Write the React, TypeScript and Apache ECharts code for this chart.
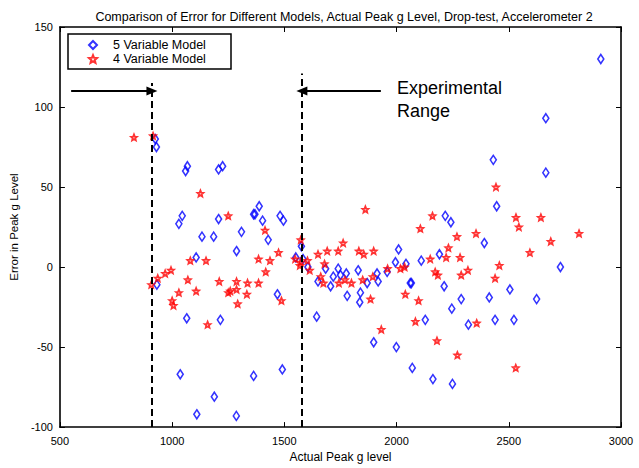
import React, { useEffect, useRef } from "react";
import * as echarts from "echarts";

const titleText =
  "Comparison of Error for Different Models, Actual Peak g Level, Drop-test, Accelerometer 2";
const xAxisName = "Actual Peak g level";
const yAxisName = "Error in Peak g Level";
const seriesNames = ["5 Variable Model", "4 Variable Model"];
const annotationLines = ["Experimental", "Range"];

const xTicks = { min: 500, max: 3000, interval: 500 };
const yTicks = { min: -100, max: 150, interval: 50 };

// 5 Variable Model (blue diamonds)
const model5X = [
  2910, 2665, 2431, 2665, 2446, 925, 930, 1060, 1068, 1207, 1225, 1045, 1030, 1207, 1363, 1133,
  1185, 1309, 1287, 1107, 932, 1065, 1215, 1036, 1363, 1188, 1110, 1286, 1388, 1369, 1403, 1481,
  1496, 1428, 1469, 1576, 1551, 1583, 1605, 1684, 1650, 1706, 1718, 1740, 1750, 1776, 1829, 1869,
  1913, 1918, 1958, 2009, 1995, 2042, 2110, 2061, 2066, 1780, 1839, 1836, 1644, 1491, 2128, 1898,
  1999, 2070, 2162, 2249, 2217, 2242, 2391, 2191, 2730, 2212, 2505, 2288, 2413, 2624, 2246, 2320,
  2439, 2523,
];
const model5Y = [
  130, 93, 67, 59, 38, 80, 75, 60, 63, 61, 63, 32, 27, 30, 33, 19,
  19, 22, 10, 6, -11, -32, -33, -67, -68, -81, -92, -93, 38, 33, 29, 32,
  29, 17, -17, 13, 6, 5, 0, -1, -9, -12, -6, -1, -5, -4, -2, -10,
  -4, -9, -3, 11, 3, 2, 4, -10, -10, -18, -16, -22, -31, -64, -33, -47,
  -50, -63, -70, -73, 32, 28, 15, 8, 0, -12, -14, -20, -19, -20, -26, -36,
  -33, -33,
];

// 4 Variable Model (red stars)
const model4X = [
  830, 915, 1126, 1250, 1081, 1151, 995, 969, 936, 907, 1070, 1030, 1107, 1210, 1250, 1259,
  1287, 1287, 1336, 1333, 1000, 1006, 1292, 1158, 1385, 1385, 1436, 1474, 1417, 1414, 1487, 1573,
  1548, 1573, 1569, 1603, 1613, 1650, 1691, 1740, 1762, 1679, 1662, 1674, 1743, 1770, 1799, 1832,
  1854, 1898, 1849, 1894, 1960, 2017, 2036, 1861, 1884, 2039, 2098, 2084, 1932, 2180, 2106, 2160,
  2150, 2172, 2184, 2443, 2532, 2643, 2545, 2269, 2354, 2813, 2687, 2231, 2594, 2221, 2283, 2458,
  2318, 2288, 2439, 2357, 2271, 2531,
];
const model4Y = [
  81, 82, 46, 32, 4, 4, -2, -4, -7, -11, -8, -16, -15, -9, -16, -15,
  -9, -14, -10, -17, -21, -24, -23, -36, -10, 5, 4, 9, -3, 23, -21, 17,
  5, 3, 1, 4, -2, 8, 10, 10, 15, 2, -6, -10, -10, -8, -10, 10,
  8, 10, -8, -6, -1, -1, 0, 36, -20, -17, -21, -34, -39, -46, 24, 32,
  5, -3, -5, 50, 31, 31, 25, 19, 21, 21, 16, 12, 9, 6, 6, 1,
  -2, -5, -7, -35, -55, -63,
];

// Experimental range boundaries and arrows (data units)
const rangeLow = 910;
const rangeHigh = 1578;
const rangeLowTop = 115;
const rangeHighTop = 121;
const arrowY = 110;
const arrowLeftStart = 550;
const arrowRightStart = 1930;

function pentagramPath(): string {
  const pts: string[] = [];
  for (let i = 0; i < 10; i++) {
    const a = (-90 + i * 36) * (Math.PI / 180);
    const r = i % 2 === 0 ? 1 : 0.45;
    pts.push(`${(r * Math.cos(a)).toFixed(3)} ${(r * Math.sin(a)).toFixed(3)}`);
  }
  return "path://M" + pts.join(" L") + " Z";
}

export default function App() {
  const ref = useRef<HTMLDivElement>(null);

  useEffect(() => {
    if (!ref.current) return;
    const chart = echarts.init(ref.current, undefined, { renderer: "svg" });
    const font = "Arial, 'Liberation Sans', Helvetica, sans-serif";
    const star = pentagramPath();

    const zip = (xs: number[], ys: number[]) => xs.map((x, i) => [x, ys[i]]);
    const plain = (v: number) => String(v);

    const axisCommon = {
      axisLine: { show: true, onZero: false, lineStyle: { color: "#000", width: 1.6 } },
      axisTick: { show: true, inside: true, length: 5, lineStyle: { color: "#000", width: 1 } },
      splitLine: { show: false },
    };

    chart.setOption({
      animation: false,
      backgroundColor: "#fff",
      title: {
        text: titleText,
        left: 339,
        top: 5,
        textAlign: "center",
        textStyle: { fontFamily: font, fontSize: 12.5, fontWeight: "normal", color: "#000" },
      },
      grid: { left: 57, right: 18, top: 27, bottom: 36, containLabel: false },
      xAxis: [
        {
          type: "value",
          position: "bottom",
          ...xTicks,
          ...axisCommon,
          name: xAxisName,
          nameLocation: "middle",
          nameGap: 23,
          nameTextStyle: { fontFamily: font, fontSize: 12, color: "#000" },
          axisLabel: { fontFamily: font, fontSize: 11, color: "#000", margin: 8, formatter: plain },
        },
        {
          type: "value",
          position: "top",
          ...xTicks,
          ...axisCommon,
          axisLabel: { show: false },
        },
      ],
      yAxis: [
        {
          type: "value",
          position: "left",
          ...yTicks,
          ...axisCommon,
          name: yAxisName,
          nameLocation: "middle",
          nameGap: 28,
          nameTextStyle: { fontFamily: font, fontSize: 11.5, color: "#000" },
          axisLabel: { fontFamily: font, fontSize: 11, color: "#000", margin: 7, formatter: plain },
        },
        {
          type: "value",
          position: "right",
          ...yTicks,
          ...axisCommon,
          axisLabel: { show: false },
        },
      ],
      legend: {
        data: seriesNames,
        orient: "vertical",
        left: 88,
        top: 38,
        itemGap: 0,
        itemWidth: 8,
        itemHeight: 8,
        padding: 0,
        selectedMode: false,
        textStyle: {
          fontFamily: font,
          fontSize: 12.5,
          color: "#000",
          lineHeight: 14,
          padding: [0, 0, 0, 11],
        },
      },
      graphic: [
        {
          type: "rect",
          z: 3,
          shape: { x: 68, y: 34, width: 163, height: 35 },
          style: { fill: "#fff", stroke: "#000", lineWidth: 1.5 },
        },
        {
          type: "text",
          z: 10,
          x: 397,
          y: 76,
          style: {
            text: annotationLines.join("\n"),
            fontFamily: font,
            fontSize: 18,
            lineHeight: 23,
            fill: "#000",
          },
        },
      ],
      series: [
        {
          name: seriesNames[0],
          type: "scatter",
          symbol: "diamond",
          symbolSize: [6, 9],
          data: zip(model5X, model5Y),
          itemStyle: { color: "rgba(0,0,0,0)", borderColor: "#0000ff", borderWidth: 1.6 },
          emphasis: { disabled: true },
          z: 2,
        },
        {
          name: seriesNames[1],
          type: "scatter",
          symbol: star,
          symbolSize: 6,
          data: zip(model4X, model4Y),
          itemStyle: { color: "rgba(0,0,0,0)", borderColor: "#ff0000", borderWidth: 1.8 },
          emphasis: { disabled: true },
          z: 3,
        },
        {
          name: "annotations",
          type: "scatter",
          data: [],
          silent: true,
          markLine: {
            silent: true,
            animation: false,
            label: { show: false },
            emphasis: { disabled: true },
            data: [
              [
                { coord: [rangeLow, yTicks.min], symbol: "none", lineStyle: { type: [7, 4], width: 2, color: "#000" } },
                { coord: [rangeLow, rangeLowTop], symbol: "none" },
              ],
              [
                { coord: [rangeHigh, yTicks.min], symbol: "none", lineStyle: { type: [7, 4], width: 2, color: "#000" } },
                { coord: [rangeHigh, rangeHighTop], symbol: "none" },
              ],
              [
                { coord: [arrowLeftStart, arrowY], symbol: "none", lineStyle: { type: "solid", width: 2, color: "#000" } },
                { coord: [rangeLow, arrowY], symbol: "triangle", symbolSize: [9, 11] },
              ],
              [
                { coord: [arrowRightStart, arrowY], symbol: "none", lineStyle: { type: "solid", width: 2, color: "#000" } },
                { coord: [rangeHigh, arrowY], symbol: "triangle", symbolSize: [9, 11] },
              ],
            ],
            itemStyle: { color: "#000" },
          },
        },
      ],
    });

    return () => chart.dispose();
  }, []);

  return (
    <div
      ref={ref}
      style={{ position: "fixed", left: 0, top: 0, width: 639, height: 468, background: "#fff" }}
    />
  );
}
